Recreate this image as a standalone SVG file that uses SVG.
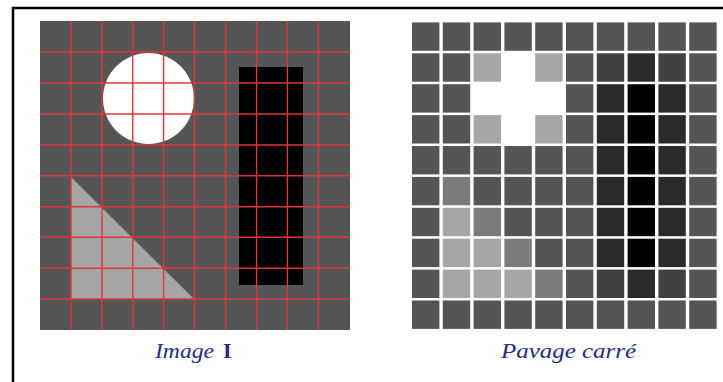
<svg xmlns="http://www.w3.org/2000/svg" width="723" height="382" viewBox="0 0 723 382">
<style>
.D{fill:#555555}.D2{fill:#414141}.K2{fill:#2b2b2b}.K{fill:#000000}.W{fill:#ffffff}.L{fill:#a6a6a6}.M{fill:#7b7b7b}
.grid line{stroke:#e0343c;stroke-width:1.4}
.lbl{font-family:"Liberation Serif","Times New Roman",serif;font-size:22px;fill:#262b7e}
</style>
<rect width="723" height="382" fill="#ffffff"/>
<path id="frame" d="M13,382 V8 H723" fill="none" stroke="#000" stroke-width="2.5"/>
<g id="image-I">
  <rect x="40" y="21" width="310" height="309" fill="#555555"/>
  <circle cx="148.5" cy="98.5" r="45.5" fill="#ffffff"/>
  <polygon points="71,177 71,299 194,299" fill="#a6a6a6"/>
  <rect x="239" y="67" width="64" height="218" fill="#000000"/>
  <g class="grid">
    <line x1="71" y1="21" x2="71" y2="330"/>
    <line x1="102" y1="21" x2="102" y2="330"/>
    <line x1="132.8" y1="21" x2="132.8" y2="330"/>
    <line x1="163.6" y1="21" x2="163.6" y2="330"/>
    <line x1="194.4" y1="21" x2="194.4" y2="330"/>
    <line x1="225.6" y1="21" x2="225.6" y2="330"/>
    <line x1="256.6" y1="21" x2="256.6" y2="330"/>
    <line x1="287.4" y1="21" x2="287.4" y2="330"/>
    <line x1="318.4" y1="21" x2="318.4" y2="330"/>
    <line x1="40" y1="51.8" x2="350" y2="51.8"/>
    <line x1="40" y1="83" x2="350" y2="83"/>
    <line x1="40" y1="114" x2="350" y2="114"/>
    <line x1="40" y1="145" x2="350" y2="145"/>
    <line x1="40" y1="175.8" x2="350" y2="175.8"/>
    <line x1="40" y1="206.7" x2="350" y2="206.7"/>
    <line x1="40" y1="237.3" x2="350" y2="237.3"/>
    <line x1="40" y1="268.2" x2="350" y2="268.2"/>
    <line x1="40" y1="299" x2="350" y2="299"/>
  </g>
</g>
<defs>
  <rect id="t" width="27.4" height="28.4"/>
</defs>
<g id="pavage">
  <g transform="translate(0,22.4)">
    <use href="#t" x="412" class="D"/><use href="#t" x="442.8" class="D"/><use href="#t" x="473.6" class="D"/><use href="#t" x="504.4" class="D"/><use href="#t" x="535.2" class="D"/><use href="#t" x="566" class="D"/><use href="#t" x="596.8" class="D"/><use href="#t" x="627.6" class="D"/><use href="#t" x="658.4" class="D"/><use href="#t" x="689.2" class="D"/>
  </g>
  <g transform="translate(0,53.3)">
    <use href="#t" x="412" class="D"/><use href="#t" x="442.8" class="D"/><use href="#t" x="473.6" class="L"/><use href="#t" x="504.4" class="W"/><use href="#t" x="535.2" class="L"/><use href="#t" x="566" class="D"/><use href="#t" x="596.8" class="D2"/><use href="#t" x="627.6" class="K2"/><use href="#t" x="658.4" class="D2"/><use href="#t" x="689.2" class="D"/>
  </g>
  <g transform="translate(0,84.2)">
    <use href="#t" x="412" class="D"/><use href="#t" x="442.8" class="D"/><use href="#t" x="473.6" class="W"/><use href="#t" x="504.4" class="W"/><use href="#t" x="535.2" class="W"/><use href="#t" x="566" class="D"/><use href="#t" x="596.8" class="K2"/><use href="#t" x="627.6" class="K"/><use href="#t" x="658.4" class="K2"/><use href="#t" x="689.2" class="D"/>
  </g>
  <g transform="translate(0,115.1)">
    <use href="#t" x="412" class="D"/><use href="#t" x="442.8" class="D"/><use href="#t" x="473.6" class="L"/><use href="#t" x="504.4" class="W"/><use href="#t" x="535.2" class="L"/><use href="#t" x="566" class="D"/><use href="#t" x="596.8" class="K2"/><use href="#t" x="627.6" class="K"/><use href="#t" x="658.4" class="K2"/><use href="#t" x="689.2" class="D"/>
  </g>
  <g transform="translate(0,146)">
    <use href="#t" x="412" class="D"/><use href="#t" x="442.8" class="D"/><use href="#t" x="473.6" class="D"/><use href="#t" x="504.4" class="D"/><use href="#t" x="535.2" class="D"/><use href="#t" x="566" class="D"/><use href="#t" x="596.8" class="K2"/><use href="#t" x="627.6" class="K"/><use href="#t" x="658.4" class="K2"/><use href="#t" x="689.2" class="D"/>
  </g>
  <g transform="translate(0,176.9)">
    <use href="#t" x="412" class="D"/><use href="#t" x="442.8" class="M"/><use href="#t" x="473.6" class="D"/><use href="#t" x="504.4" class="D"/><use href="#t" x="535.2" class="D"/><use href="#t" x="566" class="D"/><use href="#t" x="596.8" class="K2"/><use href="#t" x="627.6" class="K"/><use href="#t" x="658.4" class="K2"/><use href="#t" x="689.2" class="D"/>
  </g>
  <g transform="translate(0,207.8)">
    <use href="#t" x="412" class="D"/><use href="#t" x="442.8" class="L"/><use href="#t" x="473.6" class="M"/><use href="#t" x="504.4" class="D"/><use href="#t" x="535.2" class="D"/><use href="#t" x="566" class="D"/><use href="#t" x="596.8" class="K2"/><use href="#t" x="627.6" class="K"/><use href="#t" x="658.4" class="K2"/><use href="#t" x="689.2" class="D"/>
  </g>
  <g transform="translate(0,238.7)">
    <use href="#t" x="412" class="D"/><use href="#t" x="442.8" class="L"/><use href="#t" x="473.6" class="L"/><use href="#t" x="504.4" class="M"/><use href="#t" x="535.2" class="D"/><use href="#t" x="566" class="D"/><use href="#t" x="596.8" class="K2"/><use href="#t" x="627.6" class="K"/><use href="#t" x="658.4" class="K2"/><use href="#t" x="689.2" class="D"/>
  </g>
  <g transform="translate(0,269.6)">
    <use href="#t" x="412" class="D"/><use href="#t" x="442.8" class="L"/><use href="#t" x="473.6" class="L"/><use href="#t" x="504.4" class="L"/><use href="#t" x="535.2" class="M"/><use href="#t" x="566" class="D"/><use href="#t" x="596.8" class="D2"/><use href="#t" x="627.6" class="K2"/><use href="#t" x="658.4" class="D2"/><use href="#t" x="689.2" class="D"/>
  </g>
  <g transform="translate(0,300.5)">
    <use href="#t" x="412" class="D"/><use href="#t" x="442.8" class="D"/><use href="#t" x="473.6" class="D"/><use href="#t" x="504.4" class="D"/><use href="#t" x="535.2" class="D"/><use href="#t" x="566" class="D"/><use href="#t" x="596.8" class="D"/><use href="#t" x="627.6" class="D"/><use href="#t" x="658.4" class="D"/><use href="#t" x="689.2" class="D"/>
  </g>
</g>
<g id="labels">
  <text class="lbl" x="155" y="358" font-style="italic" textLength="59" lengthAdjust="spacingAndGlyphs">Image</text>
  <text class="lbl" x="223" y="358" font-weight="bold">I</text>
  <text class="lbl" x="501" y="358" font-style="italic" textLength="135" lengthAdjust="spacingAndGlyphs">Pavage carré</text>
</g>
</svg>
